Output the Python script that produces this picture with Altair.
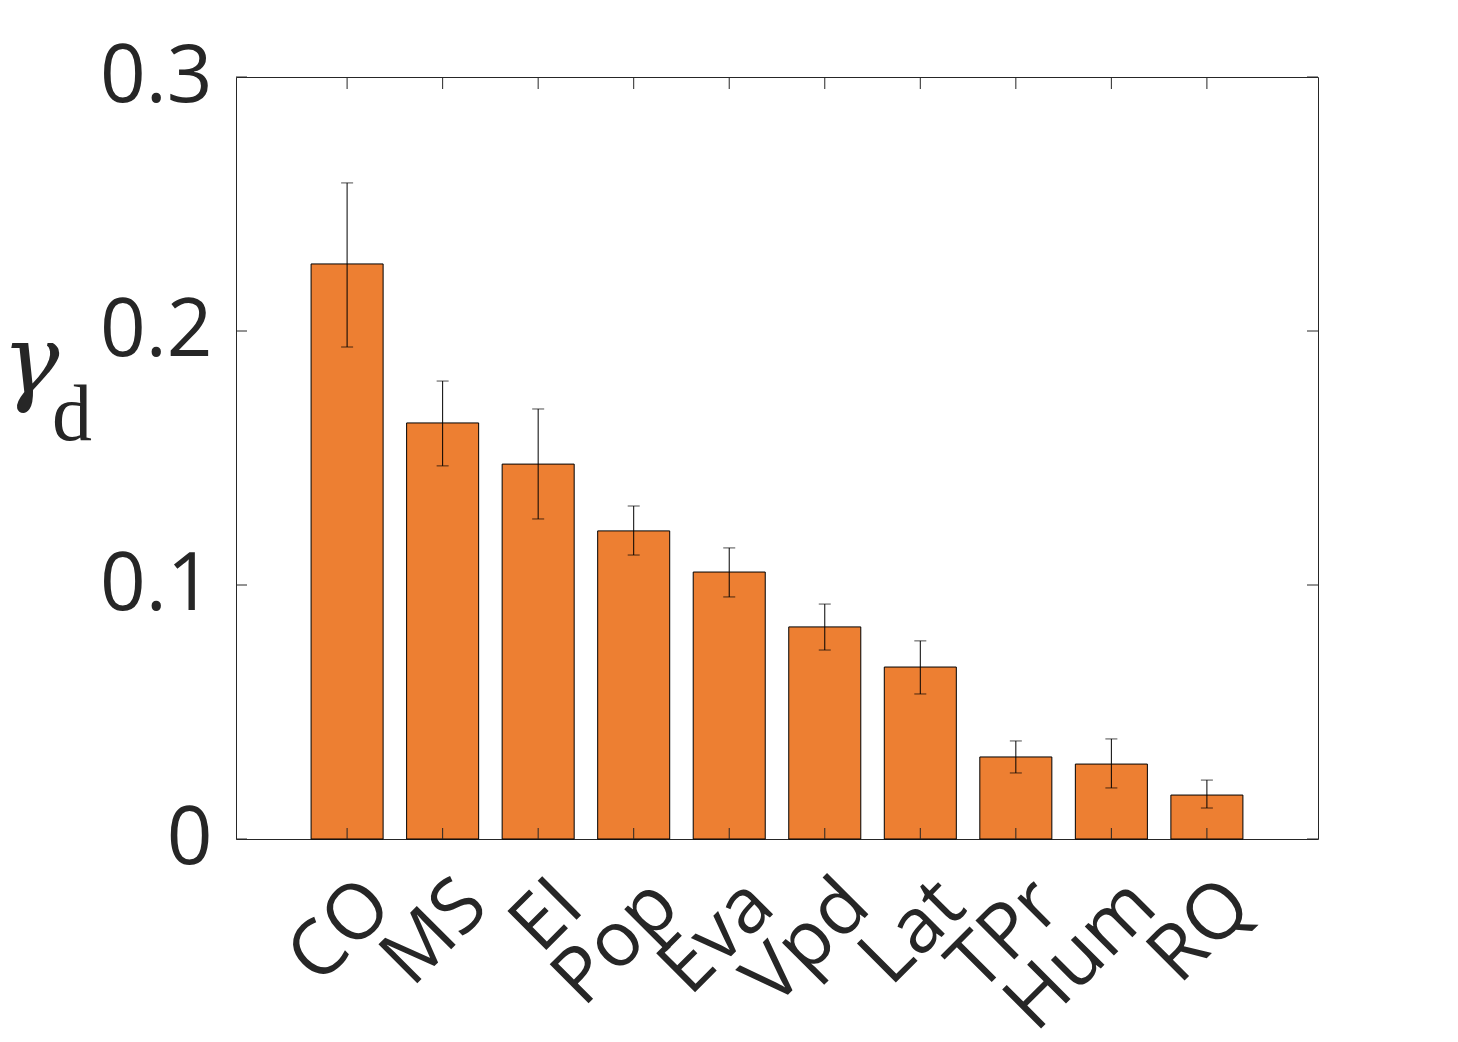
import altair as alt
import pandas as pd

categories = ["CO", "MS", "EI", "Pop", "Eva", "Vpd", "Lat", "TPr", "Hum", "RQ"]
values = [0.2264, 0.1638, 0.1476, 0.1213, 0.1051, 0.0835, 0.0677, 0.0323, 0.0295, 0.0173]
err_low = [0.1937, 0.1469, 0.1260, 0.1118, 0.0953, 0.0744, 0.0571, 0.0260, 0.0201, 0.0122]
err_high = [0.2583, 0.1803, 0.1693, 0.1311, 0.1146, 0.0925, 0.0780, 0.0386, 0.0394, 0.0232]
y_ticks = [0, 0.1, 0.2, 0.3]

W, H = 1082, 762
TXT = "#262626"
FONT = "Open Sans"

df = pd.DataFrame({"cat": categories, "val": values, "lo": err_low, "hi": err_high})
tick_df = pd.DataFrame({"t": y_ticks})

xscale = alt.Scale(domain=categories, paddingInner=0.246, paddingOuter=0.786)
yscale = alt.Scale(domain=[0, 0.3], nice=False, zero=True)

x_enc = alt.X("cat:N", scale=xscale, sort=categories,
              axis=alt.Axis(title=None, labelAngle=315, labelAlign="right",
                            labelBaseline="middle", labelPadding=54, labelOffset=32,
                            labelFontSize=77, labelFont=FONT, labelColor=TXT,
                            ticks=False, domain=False, labelOverlap=False))
y_enc = alt.Y("val:Q", scale=yscale,
              axis=alt.Axis(title=None, values=y_ticks, format="~g",
                            labelPadding=24, labelFontSize=80, labelFont=FONT,
                            labelColor=TXT, ticks=False, domain=False, grid=False))

bars = alt.Chart(df).mark_bar(color="#ED7F32", stroke="black", strokeWidth=1).encode(
    x=x_enc, y=y_enc)

err = alt.Chart(df).mark_rule(color="black", strokeWidth=1).encode(
    x=alt.X("cat:N", scale=xscale, sort=categories),
    y=alt.Y("lo:Q", scale=yscale), y2="hi:Q")
cap_lo = alt.Chart(df).mark_tick(color="black", thickness=1, size=12, orient="horizontal").encode(
    x=alt.X("cat:N", scale=xscale, sort=categories), y=alt.Y("lo:Q", scale=yscale))
cap_hi = alt.Chart(df).mark_tick(color="black", thickness=1, size=12, orient="horizontal").encode(
    x=alt.X("cat:N", scale=xscale, sort=categories), y=alt.Y("hi:Q", scale=yscale))

yt_left = alt.Chart(tick_df).mark_rule(color=TXT, strokeWidth=1).encode(
    y=alt.Y("t:Q", scale=yscale), x=alt.value(0), x2=alt.value(11))
yt_right = alt.Chart(tick_df).mark_rule(color=TXT, strokeWidth=1).encode(
    y=alt.Y("t:Q", scale=yscale), x=alt.value(W - 11), x2=alt.value(W))
xt_bot = alt.Chart(df).mark_rule(color=TXT, strokeWidth=1).encode(
    x=alt.X("cat:N", scale=xscale, sort=categories), y=alt.value(H - 11), y2=alt.value(H))
xt_top = alt.Chart(df).mark_rule(color=TXT, strokeWidth=1).encode(
    x=alt.X("cat:N", scale=xscale, sort=categories), y=alt.value(0), y2=alt.value(12))

one = alt.Data(values=[{"a": 1}])
gamma = alt.Chart(one).mark_text(text="γ", font="DejaVu Serif", fontStyle="italic",
                                 fontSize=96, color=TXT, align="left",
                                 baseline="alphabetic").encode(
    x=alt.value(-234), y=alt.value(316))
dsub = alt.Chart(one).mark_text(text="d", font="Liberation Serif", fontSize=80, color=TXT,
                                align="left", baseline="alphabetic").encode(
    x=alt.value(-184), y=alt.value(363))

chart = alt.layer(bars, err, cap_lo, cap_hi, yt_left, yt_right, xt_bot, xt_top, gamma, dsub).properties(
    width=W, height=H,
    padding={"left": 228, "top": 69, "right": 132, "bottom": 195},
    autosize=alt.AutoSizeParams(type="none"),
    background="white",
).configure_view(stroke=TXT, strokeWidth=1)

chart.save("out.html", embed_options={"renderer": "svg", "actions": False})
